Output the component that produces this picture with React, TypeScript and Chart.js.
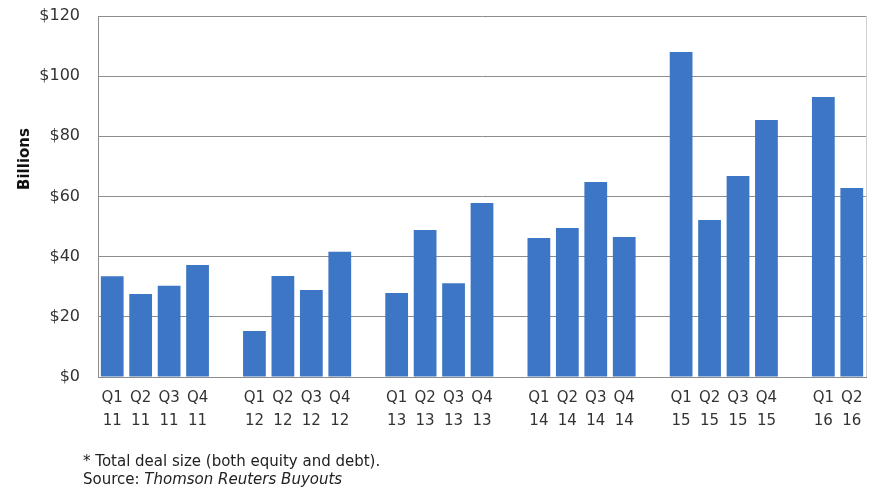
import React, { useEffect, useRef } from "react";
import { Chart, registerables } from "chart.js";

Chart.register(...registerables);

// Quarter labels (empty strings are spacer slots between years)
const quarters: string[] = [
  "Q1", "Q2", "Q3", "Q4", "",
  "Q1", "Q2", "Q3", "Q4", "",
  "Q1", "Q2", "Q3", "Q4", "",
  "Q1", "Q2", "Q3", "Q4", "",
  "Q1", "Q2", "Q3", "Q4", "",
  "Q1", "Q2",
];
const years: string[] = [
  "11", "11", "11", "11", "",
  "12", "12", "12", "12", "",
  "13", "13", "13", "13", "",
  "14", "14", "14", "14", "",
  "15", "15", "15", "15", "",
  "16", "16",
];
// Deal value, $ billions
const dealValue: (number | null)[] = [
  33.5, 27.6, 30.3, 37.2, null,
  15.3, 33.6, 28.9, 41.6, null,
  27.9, 48.9, 31.2, 57.8, null,
  46.2, 49.5, 64.8, 46.5, null,
  108.0, 52.2, 66.8, 85.4, null,
  93.1, 62.8,
];
const yTicks: number[] = [0, 20, 40, 60, 80, 100, 120];
const yTitle = "Billions";

const FONT = "'DejaVu Sans', sans-serif";
const TEXT = "#333333";

// Light frame line on the right edge of the plot and the rotated axis title
const decorations = {
  id: "decorations",
  afterDraw(chart: any) {
    const { ctx, chartArea } = chart;
    ctx.save();
    ctx.strokeStyle = "#d0d0d0";
    ctx.lineWidth = 1;
    ctx.beginPath();
    ctx.moveTo(Math.round(chartArea.right) + 0.5, chartArea.top);
    ctx.lineTo(Math.round(chartArea.right) + 0.5, chartArea.bottom);
    ctx.stroke();

    ctx.translate(25, 159);
    ctx.rotate(-Math.PI / 2);
    ctx.fillStyle = "#111111";
    ctx.font = `bold 15px ${FONT}`;
    ctx.textAlign = "center";
    ctx.textBaseline = "middle";
    ctx.fillText(yTitle, 0, 0);
    ctx.restore();
  },
};

export default function App() {
  const ref = useRef<HTMLCanvasElement>(null);

  useEffect(() => {
    document.body.style.margin = "0";
    const labels = quarters.map((q, i) => (q ? [q, years[i]] : ""));
    const chart = new Chart(ref.current!, {
      type: "bar",
      data: {
        labels,
        datasets: [
          {
            data: dealValue,
            backgroundColor: "#3d76c4",
            borderWidth: 0,
            barPercentage: 0.8,
            categoryPercentage: 1,
          },
        ],
      },
      plugins: [decorations],
      options: {
        animation: false,
        responsive: false,
        maintainAspectRatio: false,
        layout: { padding: { top: 16, right: 15, bottom: 0, left: 0 } },
        plugins: { legend: { display: false }, tooltip: { enabled: false } },
        scales: {
          x: {
            grid: { display: false, drawTicks: false },
            border: { color: "#8c8c8c", width: 1 },
            ticks: {
              autoSkip: false,
              maxRotation: 0,
              minRotation: 0,
              padding: 10,
              color: TEXT,
              font: { family: FONT, size: 15, lineHeight: 1.5 },
            },
            afterFit: (s: any) => {
              s.height = 112;
            },
          },
          y: {
            min: 0,
            max: 120,
            afterBuildTicks: (s: any) => {
              s.ticks = yTicks.map((v) => ({ value: v }));
            },
            grid: { color: "#8c8c8c", drawTicks: false, lineWidth: 1 },
            border: { color: "#8c8c8c", width: 1 },
            ticks: {
              padding: 18,
              color: TEXT,
              font: { family: FONT, size: 16 },
              callback: (v: any) => "$" + v,
            },
            afterFit: (s: any) => {
              s.width = 98;
              s.paddingTop = 0;
              s.paddingBottom = 0;
            },
          },
        },
      },
    });
    return () => chart.destroy();
  }, []);

  return (
    <div style={{ position: "relative", width: 881, height: 489, background: "#ffffff" }}>
      <canvas ref={ref} width={881} height={489} style={{ display: "block" }} />
      <div
        style={{
          position: "absolute",
          left: 83,
          top: 452,
          fontFamily: FONT,
          fontSize: 15,
          lineHeight: "18px",
          color: "#222222",
        }}
      >
        <div>* Total deal size (both equity and debt).</div>
        <div>
          Source: <i>Thomson Reuters Buyouts</i>
        </div>
      </div>
    </div>
  );
}
